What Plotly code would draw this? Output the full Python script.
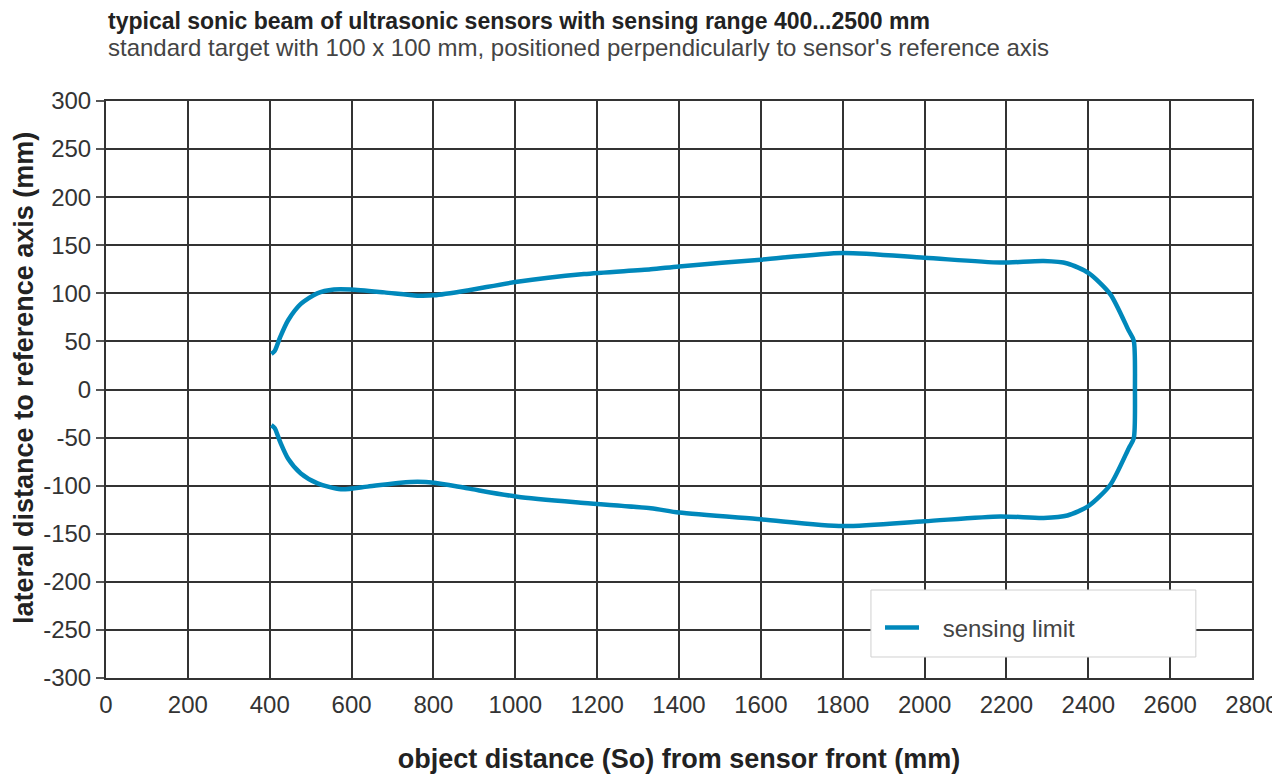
import plotly.graph_objects as go

# upper branch of the sonic beam (object distance mm, lateral mm)
upper_x = [404, 412, 425, 445, 476, 516, 557, 598, 680, 761, 802, 883, 1005, 1168, 1331,
           1400, 1600, 1800, 2000, 2185, 2291, 2349, 2401, 2454, 2499, 2511, 2514]
upper_y = [37, 40, 54, 72, 89, 100, 104, 104, 101, 97.6, 98, 103, 112, 120, 125,
           128, 135, 142, 137, 132, 133.5, 131, 121, 99, 61, 51, 0]

# lower branch, read back from the far end towards the sensor
lower_x = [2511, 2499, 2454, 2401, 2349, 2291, 2185, 2000, 1800, 1600, 1400,
           1331, 1168, 1005, 883, 802, 761, 720, 639, 574, 517, 476, 445, 425, 412, 404]
lower_y = [-51, -61, -99, -121, -131, -133.5, -132, -137, -142, -135, -128,
           -123.5, -118, -111.5, -102.8, -97, -96, -97, -101, -103.8, -97.6, -87.3, -72, -54, -40, -37]

x_ticks = list(range(0, 2801, 200))
y_ticks = list(range(-300, 301, 50))
y_labels = [str(v) for v in y_ticks]  # plain hyphen minus like the original

fig = go.Figure()

fig.add_trace(go.Scatter(
    x=upper_x + lower_x,
    y=upper_y + lower_y,
    mode='lines',
    name='\u2002\u00a0sensing limit',
    line=dict(color='#0088bb', width=4.5, shape='spline', smoothing=0.7)
))

base = 'Liberation Sans, Arial, sans-serif'
tick_font = dict(family=base, size=24, color='#333333')

fig.update_layout(
    width=1272,
    height=769,
    plot_bgcolor='white',
    paper_bgcolor='white',
    margin=dict(l=98, r=28, t=93, b=99),
    font=dict(family=base, color='#222222'),
    xaxis=dict(
        range=[0, 2800],
        tickvals=x_ticks,
        showgrid=True,
        gridcolor='#333333',
        gridwidth=2,
        zeroline=False,
        showline=True,
        linecolor='#333333',
        linewidth=2,
        mirror=True,
        ticks='',
        ticklabelstandoff=4,
        tickfont=tick_font,
        automargin=False,
        title=dict(text='<b>object distance (So) from sensor front (mm)</b>',
                   font=dict(family=base, size=27, color='#222222'), standoff=32)
    ),
    yaxis=dict(
        range=[-300, 300],
        tickvals=y_ticks,
        ticktext=y_labels,
        showgrid=True,
        gridcolor='#333333',
        gridwidth=2,
        zeroline=False,
        showline=True,
        linecolor='#333333',
        linewidth=2,
        mirror=True,
        ticks='outside',
        ticklen=8,
        tickwidth=2,
        tickcolor='#555555',
        ticklabelstandoff=0,
        tickfont=tick_font,
        automargin=False
    ),
    showlegend=True,
    legend=dict(
        x=0.6754, y=0.0867,
        xanchor='left', yanchor='middle',
        bgcolor='rgba(0,0,0,0)',
        borderwidth=0,
        font=dict(family=base, size=24, color='#444444'),
        itemwidth=34
    ),
    shapes=[
        # legend frame
        dict(type='rect', xref='paper', yref='paper',
             x0=0.6675, x1=0.951, y0=0.0364, y1=0.1525,
             line=dict(color='#d0d0d0', width=1), fillcolor='white', layer='above')
    ],
    annotations=[
        dict(text='<b>typical sonic beam of ultrasonic sensors with sensing range 400...2500 mm</b>',
             xref='paper', yref='paper', x=0, y=1, xanchor='left', yanchor='middle',
             yshift=80, showarrow=False,
             font=dict(family=base, size=23, color='#222222')),
        dict(text="standard target with 100 x 100 mm, positioned perpendicularly to sensor's reference axis",
             xref='paper', yref='paper', x=0, y=1, xanchor='left', yanchor='middle',
             yshift=54, showarrow=False,
             font=dict(family=base, size=24, color='#444444')),
        dict(text='<b>lateral distance to reference axis (mm)</b>',
             xref='paper', yref='paper', x=0, y=0.52, xanchor='center', yanchor='middle',
             xshift=-82, textangle=-90, showarrow=False,
             font=dict(family=base, size=27, color='#222222'))
    ]
)

fig.write_html("out.html")
